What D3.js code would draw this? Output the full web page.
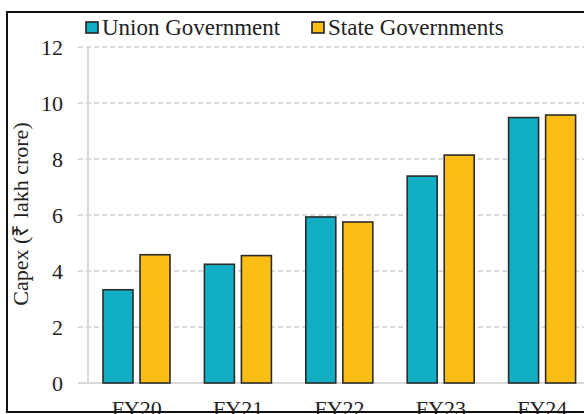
<!DOCTYPE html>
<html>
<head>
<meta charset="utf-8">
<script src="https://cdn.jsdelivr.net/npm/d3@7"></script>
<style>
    body { margin: 0; background: #fff; }
    svg { display: block; }
    svg text { font-family: "Liberation Serif", "Times New Roman", serif; }
</style>
</head>
<body>
<svg id="chart"></svg>
<script>
"use strict";

// chart data
const years = ["FY20", "FY21", "FY22", "FY23", "FY24"];
const seriesNames = ["Union Government", "State Governments"];
const unionCapex = [3.33, 4.24, 5.93, 7.39, 9.48];
const stateCapex = [4.58, 4.55, 5.75, 8.14, 9.57];
const yTicks = [0, 2, 4, 6, 8, 10, 12];

const colors = ["#12aec5", "#fbbe14"];

const width = 584;
const height = 414;

const svg = d3.select("#chart")
    .attr("width", width)
    .attr("height", height);

const y = d3.scaleLinear().domain([0, 12]).range([383, 47]);
const x0 = d3.scaleBand().domain(years).range([86, 593]).padding(0);
const x1 = d3.scaleBand().domain(seriesNames).range([17, 84]).paddingInner(0.19);

// gridlines
svg.append("g")
    .selectAll("line")
    .data(yTicks.filter(d => d > 0))
    .enter()
    .append("line")
    .attr("x1", 78)
    .attr("x2", width)
    .attr("y1", d => y(d))
    .attr("y2", d => y(d))
    .attr("stroke", "#cfcfcf")
    .attr("stroke-width", 1.3)
    .attr("stroke-dasharray", "5,3");

// axis lines
svg.append("line")
    .attr("x1", 88).attr("x2", 88)
    .attr("y1", y(12)).attr("y2", y(0))
    .attr("stroke", "#d9d9d9")
    .attr("stroke-width", 2);
svg.append("line")
    .attr("x1", 78).attr("x2", width)
    .attr("y1", y(0)).attr("y2", y(0))
    .attr("stroke", "#d9d9d9")
    .attr("stroke-width", 2);

// y tick labels
const yAxis = svg.append("g")
    .attr("transform", "translate(88,0)")
    .call(d3.axisLeft(y).tickValues(yTicks).tickSize(0).tickPadding(25));
yAxis.select(".domain").remove();
yAxis.selectAll("text")
    .style("font-family", "'Liberation Serif', serif")
    .style("font-size", "22px")
    .attr("fill", "#222");

// bars
const rows = years.map((yr, i) => ({ year: yr, values: [unionCapex[i], stateCapex[i]] }));

const groups = svg.append("g")
    .selectAll("g")
    .data(rows)
    .enter()
    .append("g")
    .attr("transform", d => `translate(${x0(d.year)},0)`);

groups.selectAll("rect")
    .data(d => d.values.map((v, i) => ({ name: seriesNames[i], value: v, idx: i })))
    .enter()
    .append("rect")
    .attr("x", d => x1(d.name))
    .attr("y", d => y(d.value))
    .attr("width", x1.bandwidth())
    .attr("height", d => y(0) - y(d.value))
    .attr("fill", d => colors[d.idx])
    .attr("stroke", "#2b2b2b")
    .attr("stroke-width", 1.6);

// x labels (cut by the frame, as in the source)
const xAxis = svg.append("g")
    .attr("transform", `translate(0,${y(0)})`)
    .call(d3.axisBottom(x0).tickSize(0).tickPadding(17));
xAxis.select(".domain").remove();
xAxis.selectAll("text")
    .style("font-family", "'Liberation Serif', serif")
    .style("font-size", "22px")
    .attr("fill", "#222");

// y title
svg.append("text")
    .attr("transform", "translate(28,214) rotate(-90)")
    .attr("text-anchor", "middle")
    .style("font-size", "22px")
    .attr("fill", "#222")
    .text("Capex (₹ lakh crore)");

// legend
const legendX = [86, 312];
const legend = svg.append("g")
    .selectAll("g")
    .data(seriesNames)
    .enter()
    .append("g")
    .attr("transform", (d, i) => `translate(${legendX[i]},0)`);

legend.append("rect")
    .attr("x", 0)
    .attr("y", 22)
    .attr("width", 12)
    .attr("height", 11)
    .attr("fill", (d, i) => colors[i])
    .attr("stroke", "#222")
    .attr("stroke-width", 1.6);

legend.append("text")
    .attr("x", 16)
    .attr("y", 35)
    .style("font-size", "23px")
    .attr("fill", "#222")
    .text(d => d);

// outer frame
svg.append("rect")
    .attr("x", 7)
    .attr("y", 12)
    .attr("width", width + 10)
    .attr("height", 400)
    .attr("fill", "none")
    .attr("stroke", "#111")
    .attr("stroke-width", 2);
</script>
</body>
</html>
